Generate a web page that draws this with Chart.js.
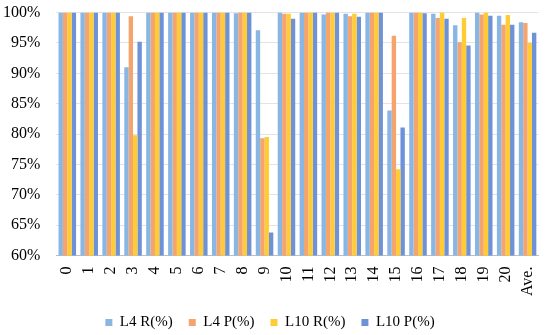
<!DOCTYPE html>
<html>
<head>
<meta charset="utf-8">
<script src="https://cdn.jsdelivr.net/npm/chart.js@4/dist/chart.umd.min.js"></script>
<style>
  html, body { margin: 0; padding: 0; background: #fff; }
  #wrap { width: 550px; height: 335px; }
</style>
</head>
<body>
<div id="wrap"><canvas id="chart"></canvas></div>
<script>
const categories = ['0','1','2','3','4','5','6','7','8','9','10','11','12','13','14','15','16','17','18','19','20','Ave.'];
const l4R  = [100,100,100,91.0,100,100,100,100,99.9,97.1,100,100,99.7,99.8,100,83.9,100,99.8,97.9,100,99.5,98.4];
const l4P  = [100,100,100,99.4,100,100,100,100,100,79.3,99.8,100,100,99.4,100,96.2,100,99.1,95.1,99.7,98.0,98.3];
const l10R = [100,100,100,79.8,100,100,100,100,100,79.5,99.8,100,100,99.8,100,74.2,100,100,99.1,100,99.6,95.0];
const l10P = [100,100,100,95.2,100,100,100,100,100,63.8,99.0,100,100,99.3,100,81.1,99.9,99.0,94.6,99.5,98.0,96.7];
const yTicks = [60, 65, 70, 75, 80, 85, 90, 95, 100];

const serif = '"Liberation Serif", "Times New Roman", serif';
const tickFont = { family: serif, size: 16 };
const legendFont = { family: serif, size: 15 };

new Chart(document.getElementById('chart'), {
  type: 'bar',
  data: {
    labels: categories,
    datasets: [
      { label: 'L4 R(%)', data: l4R, backgroundColor: '#8AB6E3' },
      { label: 'L4 P(%)', data: l4P, backgroundColor: '#F4A46C' },
      { label: 'L10 R(%)', data: l10R, backgroundColor: '#FFCC33' },
      { label: 'L10 P(%)', data: l10P, backgroundColor: '#6E92D8' }
    ]
  },
  options: {
    responsive: true,
    maintainAspectRatio: false,
    animation: false,
    // negative bottom padding pulls the legend down without shrinking the item gaps
    layout: { padding: { top: 4, right: 10, left: 0, bottom: -5 } },
    datasets: { bar: { categoryPercentage: 0.8, barPercentage: 1.0 } },
    plugins: {
      legend: {
        position: 'bottom',
        labels: { font: legendFont, color: '#000', boxWidth: 7, boxHeight: 7, padding: 16 }
      },
      tooltip: { enabled: false }
    },
    scales: {
      x: {
        grid: { display: false },
        border: { display: true, color: '#bfbfbf' },
        ticks: { font: tickFont, color: '#000', minRotation: 90, maxRotation: 90, autoSkip: false, padding: 3 }
      },
      y: {
        min: 60,
        max: 100,
        afterBuildTicks: (axis) => { axis.ticks = yTicks.map(v => ({ value: v })); },
        grid: { color: '#e3e3e3', tickLength: 13, tickColor: 'rgba(0,0,0,0)' },
        border: { display: false },
        ticks: { font: tickFont, color: '#000', padding: 3, callback: (v) => v + '%' }
      }
    }
  }
});
</script>
</body>
</html>
